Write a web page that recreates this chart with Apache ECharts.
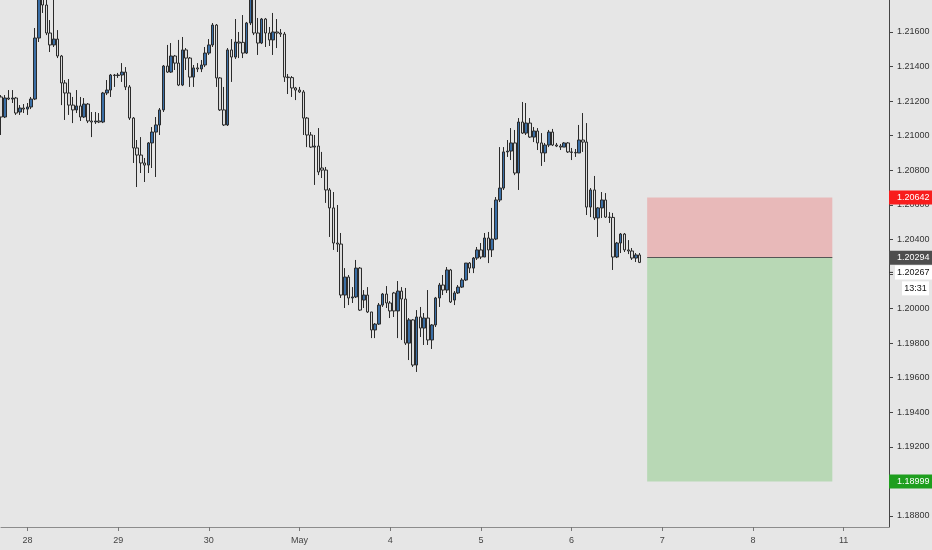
<!DOCTYPE html>
<html>
<head>
<meta charset="utf-8">
<script src="https://cdn.jsdelivr.net/npm/echarts@6.0.0/dist/echarts.min.js"></script>
<style>
  html, body { margin: 0; padding: 0; background: #e6e6e6; }
  #chart { width: 932px; height: 550px; }
</style>
</head>
<body>
<div id="chart"></div>
<script>
// hourly bars, first bar is 27 Apr 17:00
const dayLabels = ['27', '28', '29', '30', 'May', '4', '5', '6', '7', '8', '11'];
const firstHour = 17;
const totalSlots = 236;

const opens = [
  1.21224, 1.21108, 1.21218, 1.21212, 1.21218, 1.21137, 1.21160, 1.21154, 1.21166, 1.21212,
  1.21565, 1.21814, 1.21756, 1.21594, 1.21525, 1.21559, 1.21461, 1.21305, 1.21247, 1.21177,
  1.21149, 1.21172, 1.21108, 1.21183, 1.21085, 1.21079, 1.21085, 1.21079, 1.21247, 1.21264,
  1.21351, 1.21348, 1.21351, 1.21368, 1.21282, 1.21102, 1.20929, 1.20888, 1.20842, 1.20830,
  1.20958, 1.21021, 1.21062, 1.21149, 1.21403, 1.21368, 1.21461, 1.21420, 1.21293, 1.21496,
  1.21449, 1.21339, 1.21392, 1.21386, 1.21409, 1.21478, 1.21525, 1.21640, 1.21334, 1.21149,
  1.21062, 1.21496, 1.21455, 1.21542, 1.21540, 1.21478, 1.21652, 1.21797, 1.21594, 1.21536,
  1.21675, 1.21594, 1.21554, 1.21600, 1.21594, 1.21588, 1.21339, 1.21336, 1.21276, 1.21264,
  1.21253, 1.21102, 1.21004, 1.20934, 1.20940, 1.20813, 1.20801, 1.20686, 1.20582, 1.20379,
  1.20373, 1.20078, 1.20182, 1.20061, 1.20067, 1.20234, 1.20049, 1.20078, 1.19980, 1.19876,
  1.19910, 1.20020, 1.20084, 1.20032, 1.20090, 1.19986, 1.20101, 1.20055, 1.19800, 1.19934,
  1.19673, 1.19951, 1.19887, 1.19945, 1.19818, 1.19905, 1.20061, 1.20136, 1.20107, 1.20223,
  1.20049, 1.20090, 1.20124, 1.20165, 1.20263, 1.20234, 1.20292, 1.20339, 1.20298, 1.20408,
  1.20339, 1.20402, 1.20628, 1.20697, 1.20906, 1.20911, 1.20958, 1.20784, 1.21079, 1.21015,
  1.21073, 1.20992, 1.21027, 1.20958, 1.20900, 1.20946, 1.21021, 1.20946, 1.20940, 1.20934,
  1.20958, 1.20906, 1.20903, 1.20900, 1.20975, 1.20963, 1.20587, 1.20686, 1.20524, 1.20582,
  1.20628, 1.20529, 1.20527, 1.20298, 1.20379, 1.20431, 1.20339, 1.20333, 1.20292, 1.20310
];
const closes = [
  1.21108, 1.21218, 1.21212, 1.21218, 1.21131, 1.21160, 1.21154, 1.21166, 1.21212, 1.21565,
  1.21814, 1.21756, 1.21594, 1.21525, 1.21559, 1.21461, 1.21305, 1.21247, 1.21177, 1.21149,
  1.21172, 1.21108, 1.21183, 1.21085, 1.21079, 1.21085, 1.21079, 1.21247, 1.21264, 1.21351,
  1.21348, 1.21351, 1.21368, 1.21282, 1.21102, 1.20929, 1.20888, 1.20842, 1.20830, 1.20958,
  1.21021, 1.21062, 1.21149, 1.21403, 1.21368, 1.21461, 1.21420, 1.21293, 1.21496, 1.21449,
  1.21339, 1.21392, 1.21386, 1.21409, 1.21478, 1.21525, 1.21640, 1.21334, 1.21149, 1.21062,
  1.21496, 1.21455, 1.21542, 1.21536, 1.21478, 1.21652, 1.21797, 1.21594, 1.21536, 1.21675,
  1.21594, 1.21554, 1.21600, 1.21594, 1.21588, 1.21339, 1.21336, 1.21276, 1.21264, 1.21253,
  1.21102, 1.21004, 1.20934, 1.20940, 1.20790, 1.20801, 1.20686, 1.20582, 1.20379, 1.20373,
  1.20078, 1.20182, 1.20061, 1.20067, 1.20234, 1.19991, 1.20078, 1.19980, 1.19876, 1.19910,
  1.20020, 1.20084, 1.20032, 1.19986, 1.19986, 1.20101, 1.20055, 1.19800, 1.19934, 1.19673,
  1.19951, 1.19887, 1.19945, 1.19818, 1.19905, 1.20061, 1.20136, 1.20107, 1.20223, 1.20038,
  1.20090, 1.20124, 1.20165, 1.20263, 1.20234, 1.20292, 1.20339, 1.20298, 1.20408, 1.20339,
  1.20402, 1.20628, 1.20697, 1.20906, 1.20911, 1.20958, 1.20784, 1.21079, 1.21015, 1.21073,
  1.20992, 1.21027, 1.20958, 1.20900, 1.20946, 1.21021, 1.20946, 1.20940, 1.20934, 1.20958,
  1.20906, 1.20903, 1.20900, 1.20975, 1.20963, 1.20587, 1.20686, 1.20524, 1.20582, 1.20628,
  1.20529, 1.20527, 1.20298, 1.20379, 1.20431, 1.20339, 1.20333, 1.20292, 1.20310, 1.20267
];
const lows = [
  1.21004, 1.21102, 1.21206, 1.21189, 1.21120, 1.21120, 1.21131, 1.21120, 1.21154, 1.21206,
  1.21542, 1.21710, 1.21582, 1.21484, 1.21513, 1.21449, 1.21177, 1.21091, 1.21120, 1.21073,
  1.21131, 1.21085, 1.21102, 1.21073, 1.20992, 1.21068, 1.21073, 1.21073, 1.21235, 1.21224,
  1.21282, 1.21334, 1.21311, 1.21264, 1.21091, 1.20842, 1.20703, 1.20784, 1.20732, 1.20784,
  1.20813, 1.20761, 1.21004, 1.21137, 1.21363, 1.21363, 1.21380, 1.21287, 1.21287, 1.21380,
  1.21282, 1.21282, 1.21368, 1.21368, 1.21397, 1.21467, 1.21513, 1.21282, 1.21143, 1.21056,
  1.21056, 1.21311, 1.21444, 1.21449, 1.21449, 1.21473, 1.21640, 1.21582, 1.21467, 1.21530,
  1.21513, 1.21519, 1.21467, 1.21507, 1.21571, 1.21311, 1.21241, 1.21224, 1.21206, 1.21247,
  1.21004, 1.20934, 1.20929, 1.20715, 1.20772, 1.20755, 1.20611, 1.20414, 1.20339, 1.20327,
  1.20061, 1.20003, 1.20020, 1.20032, 1.20061, 1.19986, 1.20003, 1.19974, 1.19829, 1.19829,
  1.19905, 1.20009, 1.20003, 1.19945, 1.19951, 1.19829, 1.19818, 1.19789, 1.19702, 1.19662,
  1.19633, 1.19835, 1.19789, 1.19789, 1.19766, 1.19893, 1.20009, 1.20078, 1.20090, 1.20032,
  1.20020, 1.20084, 1.20119, 1.20159, 1.20205, 1.20205, 1.20281, 1.20286, 1.20298, 1.20263,
  1.20298, 1.20396, 1.20616, 1.20686, 1.20877, 1.20859, 1.20772, 1.20686, 1.21010, 1.21004,
  1.20987, 1.20963, 1.20917, 1.20825, 1.20848, 1.20934, 1.20940, 1.20934, 1.20917, 1.20934,
  1.20900, 1.20859, 1.20877, 1.20900, 1.20906, 1.20541, 1.20529, 1.20512, 1.20414, 1.20524,
  1.20524, 1.20495, 1.20223, 1.20292, 1.20321, 1.20327, 1.20315, 1.20281, 1.20269, 1.20263
];
const highs = [
  1.21235, 1.21235, 1.21264, 1.21264, 1.21224, 1.21177, 1.21183, 1.21189, 1.21224, 1.21623,
  1.21872, 1.21843, 1.21785, 1.21669, 1.21785, 1.21611, 1.21467, 1.21322, 1.21328, 1.21224,
  1.21264, 1.21224, 1.21218, 1.21189, 1.21137, 1.21137, 1.21131, 1.21253, 1.21322, 1.21357,
  1.21357, 1.21363, 1.21420, 1.21397, 1.21293, 1.21108, 1.20975, 1.20992, 1.20871, 1.20963,
  1.21050, 1.21108, 1.21160, 1.21409, 1.21525, 1.21536, 1.21467, 1.21554, 1.21571, 1.21507,
  1.21455, 1.21409, 1.21420, 1.21438, 1.21513, 1.21559, 1.21652, 1.21646, 1.21339, 1.21282,
  1.21507, 1.21559, 1.21675, 1.21600, 1.21698, 1.21658, 1.21843, 1.21831, 1.21681, 1.21681,
  1.21681, 1.21629, 1.21710, 1.21675, 1.21617, 1.21600, 1.21357, 1.21345, 1.21282, 1.21282,
  1.21264, 1.21108, 1.21021, 1.21004, 1.21044, 1.20906, 1.20819, 1.20697, 1.20674, 1.20599,
  1.20437, 1.20234, 1.20194, 1.20124, 1.20281, 1.20240, 1.20107, 1.20124, 1.19980, 1.19916,
  1.20032, 1.20090, 1.20130, 1.20043, 1.20096, 1.20159, 1.20124, 1.20119, 1.19945, 1.19939,
  1.19991, 1.20009, 1.19974, 1.20107, 1.19910, 1.20067, 1.20148, 1.20194, 1.20240, 1.20229,
  1.20101, 1.20136, 1.20176, 1.20263, 1.20269, 1.20298, 1.20356, 1.20379, 1.20437, 1.20443,
  1.20582, 1.20645, 1.20934, 1.20934, 1.20975, 1.21044, 1.21033, 1.21102, 1.21195, 1.21189,
  1.21102, 1.21050, 1.21044, 1.21015, 1.20958, 1.21033, 1.21039, 1.20958, 1.20952, 1.20963,
  1.20963, 1.20929, 1.20923, 1.21062, 1.21131, 1.21073, 1.20697, 1.20767, 1.20587, 1.20674,
  1.20668, 1.20558, 1.20553, 1.20385, 1.20437, 1.20437, 1.20396, 1.20350, 1.20321, 1.20321
];

// short position tool
const stopLoss = 1.20642;
const entry = 1.20294;
const takeProfit = 1.18999;
const lastPrice = 1.20267;
const countdown = '13:31';
const positionStart = 171;
const positionEnd = 220;

const labelFont = '"Liberation Sans", Arial, sans-serif';
const labelSize = 9;

let categories = [];
dayLabels.forEach((d, i) => {
    for (let h = (i === 0 ? firstHour : 0); h < 24; h++) {
        categories.push(d + ' ' + String(h).padStart(2, '0') + ':00');
    }
});
categories = categories.slice(0, totalSlots);

const candles = opens.map((o, i) => [o, closes[i], lows[i], highs[i]]);
const isDayStart = (index, value) => value.endsWith(' 00:00');

let chart = echarts.init(document.getElementById('chart'));
chart.setOption({
    backgroundColor: '#e6e6e6',
    animation: false,
    grid: { left: 1, right: 43, top: 0, bottom: 23, outerBoundsMode: 'none' },
    xAxis: {
        type: 'category',
        data: categories,
        boundaryGap: false,
        axisLine: { lineStyle: { color: '#8c8c8c', width: 1 } },
        axisTick: { show: true, interval: isDayStart, length: 4, lineStyle: { color: '#777' } },
        axisLabel: {
            interval: isDayStart,
            formatter: v => v.split(' ')[0],
            color: '#444',
            fontSize: labelSize,
            fontFamily: labelFont,
            margin: 9
        },
        splitLine: { show: false }
    },
    yAxis: {
        type: 'value',
        position: 'right',
        min: 1.18736,
        max: 1.21785,
        splitNumber: 15,
        minInterval: 0.002,
        maxInterval: 0.002,
        scale: true,
        axisLine: { show: true, lineStyle: { color: '#444' } },
        axisTick: { show: true, length: 4, lineStyle: { color: '#444' } },
        axisLabel: {
            formatter: v => v.toFixed(5),
            color: '#333',
            fontSize: labelSize,
            fontFamily: labelFont,
            margin: 8,
            showMinLabel: false,
            showMaxLabel: false
        },
        splitLine: { show: false }
    },
    series: [
        {
            type: 'candlestick',
            data: candles,
            barWidth: 3,
            clip: true,
            itemStyle: {
                color: '#3a6ea5',
                color0: '#dcdcdc',
                borderColor: '#2b2b2b',
                borderColor0: '#2b2b2b',
                borderWidth: 1
            },
            markArea: {
                silent: true,
                data: [
                    [
                        { xAxis: categories[positionStart], yAxis: stopLoss, itemStyle: { color: '#e8b9b9' } },
                        { xAxis: categories[positionEnd], yAxis: entry }
                    ],
                    [
                        { xAxis: categories[positionStart], yAxis: entry, itemStyle: { color: '#b8d8b5' } },
                        { xAxis: categories[positionEnd], yAxis: takeProfit }
                    ]
                ]
            },
            markLine: {
                silent: true,
                symbol: 'none',
                label: { show: false },
                lineStyle: { color: '#555', width: 1, type: 'solid' },
                data: [
                    [
                        { coord: [categories[positionStart], entry] },
                        { coord: [categories[positionEnd], entry] }
                    ]
                ]
            }
        }
    ]
});

// price tags on the right scale
function priceTag(price, dy, bg, fg, x0) {
    const y = chart.convertToPixel({ yAxisIndex: 0 }, price) + dy;
    return {
        type: 'group',
        z: 100,
        children: [
            { type: 'rect', z: 100, shape: { x: x0, y: y - 7, width: 932 - x0, height: 14 }, style: { fill: bg } },
            { type: 'text', z: 101, style: { text: price.toFixed(5), x: 897, y: y, fill: fg, font: labelSize + 'px ' + labelFont, verticalAlign: 'middle' } }
        ]
    };
}

const lastY = chart.convertToPixel({ yAxisIndex: 0 }, lastPrice) + 10;
chart.setOption({
    graphic: [
        priceTag(stopLoss, 0, '#f81d1d', '#ffffff', 889),
        priceTag(entry, 0, '#4d4d4d', '#ffffff', 889),
        priceTag(lastPrice, 10, '#ffffff', '#131313', 895),
        { type: 'line', z: 101, shape: { x1: 889, y1: lastY, x2: 893, y2: lastY }, style: { stroke: '#333', lineWidth: 1 } },
        {
            type: 'group',
            z: 100,
            children: [
                { type: 'rect', z: 100, shape: { x: 902, y: lastY + 9, width: 27, height: 14 }, style: { fill: '#ffffff' } },
                { type: 'text', z: 101, style: { text: countdown, x: 915.5, y: lastY + 16, fill: '#131313', font: labelSize + 'px ' + labelFont, align: 'center', verticalAlign: 'middle' } }
            ]
        },
        priceTag(takeProfit, 0, '#1e9e1e', '#ffffff', 889)
    ]
});
</script>
</body>
</html>
